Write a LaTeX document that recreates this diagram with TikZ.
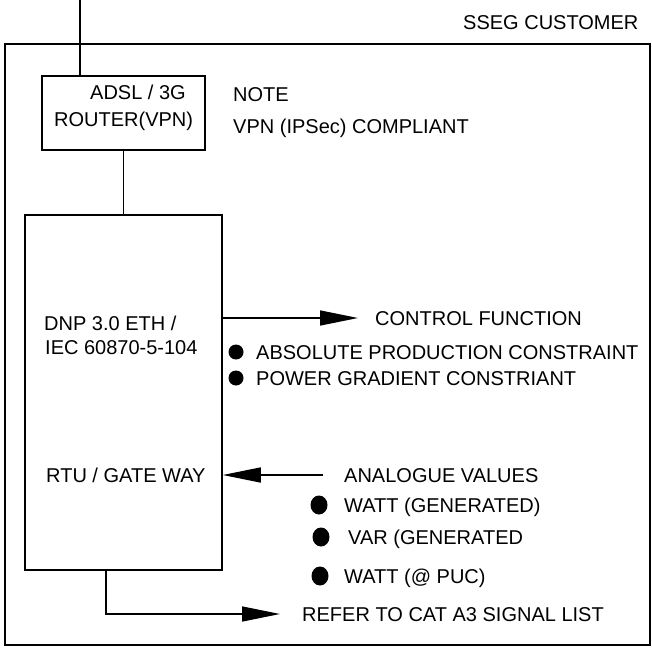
\documentclass[tikz,border=0pt]{standalone}
\usepackage{fontspec}
\setmainfont{Liberation Sans}
\usetikzlibrary{arrows.meta,shapes.geometric}
\tikzset{
  ln/.style={line width=1.5pt, draw=black},
  boxst/.style={ln, rectangle, inner sep=0pt, fill=none},
  txt/.style={anchor=base west, inner sep=0pt, font=\fontsize{20}{22}\selectfont},
  arr/.style={ln, -{Triangle[length=38pt,width=15pt]}},
  dotA/.style={circle, fill=black, inner sep=0pt, minimum size=15pt},
  dotB/.style={ellipse, fill=black, inner sep=0pt, minimum width=17pt, minimum height=19pt},
}
\begin{document}
\begin{tikzpicture}[x=1pt,y=-1pt]
\useasboundingbox (0,0) rectangle (652,652);
% boxes
\node[boxst, minimum width=645pt, minimum height=601pt] (outer) at (327.5,344.5) {};
\node[boxst, minimum width=163pt, minimum height=74pt] (router) at (123.5,113) {};
\node[boxst, minimum width=197pt, minimum height=355pt] (main) at (123.5,392.5) {};
% texts
\node[txt] (sseg) at (463,30) {SSEG CUSTOMER};
\node[txt] (adsl) at (90,100) {ADSL / 3G};
\node[txt] (rtr) at (54,127) {ROUTER(VPN)};
\node[txt] (note) at (233,102) {NOTE};
\node[txt] (vpn) at (233,134) {VPN (IPSec) COMPLIANT};
\node[txt] (dnp) at (44,330) {DNP 3.0 ETH /};
\node[txt] (iec) at (45,354) {IEC 60870-5-104};
\node[txt] (ctrl) at (375,325) {CONTROL FUNCTION};
\node[txt] (abs) at (256,359) {ABSOLUTE PRODUCTION CONSTRAINT};
\node[txt] (pow) at (256,385) {POWER GRADIENT CONSTRIANT};
\node[txt] (rtu) at (46,482) {RTU / GATE WAY};
\node[txt] (ana) at (344,482) {ANALOGUE VALUES};
\node[txt] (wgen) at (344,512) {WATT (GENERATED)};
\node[txt] (vgen) at (348,544) {VAR (GENERATED};
\node[txt] (wpuc) at (344,583) {WATT (@ PUC)};
\node[txt] (refer) at (302,621) {REFER TO CAT A3 SIGNAL LIST};
% bullets
\node[dotA] (b1) at (236,352) {};
\node[dotA] (b2) at (236,378) {};
\node[dotB] (b3) at (319,505) {};
\node[dotB] (b4) at (321,537) {};
\node[dotB] (b5) at (320,576) {};
% connectors
\coordinate (topin) at (80,0);
\draw[ln] (topin) -- (topin |- router.north);
\draw[ln] (router.south) -- (main.north);
\coordinate (ctrlend) at (358,318);
\draw[arr] (ctrlend -| main.east) -- (ctrlend);
\coordinate (anastart) at (323,475);
\draw[arr] (anastart) -- (anastart -| main.east);
\coordinate (refcorner) at (106,614);
\coordinate (refend) at (280,614);
\draw[arr] (refcorner |- main.south) -- (refcorner) -- (refend);
\end{tikzpicture}
\end{document}
